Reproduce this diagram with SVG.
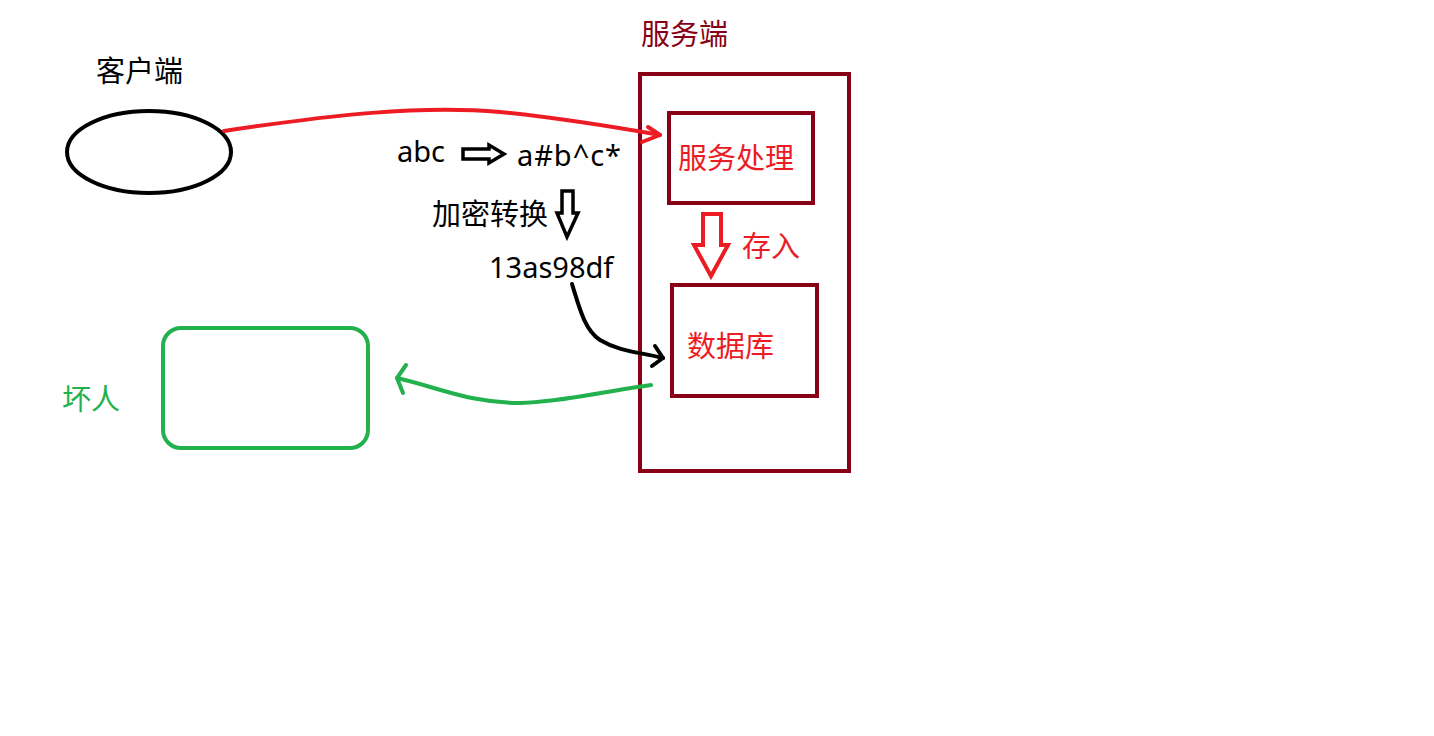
<svg xmlns="http://www.w3.org/2000/svg" width="1434" height="736" viewBox="0 0 1434 736">
<style>
text{font-family:"Noto Sans","Noto Sans CJK SC",sans-serif;font-size:29px}
.dk{fill:none;stroke:#880015;stroke-width:4}
.k{fill:#000}
.r{fill:#ED1C24}
.g{fill:#22B14C}
.curve{fill:none;stroke-width:4;stroke-linecap:round;stroke-linejoin:round}
</style>
<rect width="1434" height="736" fill="#fff"/>
<g id="client">
<ellipse cx="149" cy="152" rx="82" ry="41" fill="none" stroke="#000" stroke-width="4"/>
<text x="96" y="82" class="k">客户端</text>
</g>
<g id="server">
<rect class="dk" x="640" y="74" width="209" height="397"/>
<text x="641" y="45" fill="#880015">服务端</text>
</g>
<g id="service">
<rect class="dk" x="669" y="113" width="144" height="90"/>
<text x="678" y="169" class="r">服务处理</text>
</g>
<g id="database">
<rect class="dk" x="672" y="285" width="145" height="111"/>
<text x="687" y="357" class="r">数据库</text>
</g>
<g id="attacker">
<rect x="163" y="328" width="205" height="120" rx="18" fill="none" stroke="#22B14C" stroke-width="4"/>
<text x="62" y="410" class="g">坏人</text>
</g>
<g id="labels">
<text x="397" y="162" class="k">abc</text>
<text x="517" y="166" class="k" textLength="104" lengthAdjust="spacing">a#b^c*</text>
<text x="432" y="225" class="k">加密转换</text>
<text x="489" y="278" class="k">13as98df</text>
<text x="742" y="257" class="r">存入</text>
</g>
<g id="connectors">
<path class="curve" stroke="#ED1C24" d="M224,131 C330,115 420,105 500,112 C560,118 620,128 660,135"/>
<path class="curve" stroke="#ED1C24" d="M648,127 L660,135 L642,142"/>
<path class="curve" stroke="#000" d="M572,284 C580,310 585,330 600,340 C620,352 640,352 663,358"/>
<path class="curve" stroke="#000" d="M655,346 L663,358 L652,366"/>
<path class="curve" stroke="#22B14C" d="M651,385 C600,392 560,402 520,403 C470,403 440,388 397,378"/>
<path class="curve" stroke="#22B14C" d="M406,365 L397,378 L403,393"/>
<path fill="none" stroke="#000" stroke-width="3.5" stroke-linejoin="miter" d="M463,149 L489,149 L489,145 L504,154 L489,163 L489,159 L463,159 Z"/>
<path fill="none" stroke="#000" stroke-width="3.5" stroke-linejoin="miter" d="M562,191 L573,191 L573,213 L578,213 L567,237 L557,213 L562,213 Z"/>
<path fill="none" stroke="#ED1C24" stroke-width="4" stroke-linejoin="miter" d="M703,214 L721,214 L721,245 L728,245 L711,276 L694,245 L703,245 Z"/>
</g>
</svg>
